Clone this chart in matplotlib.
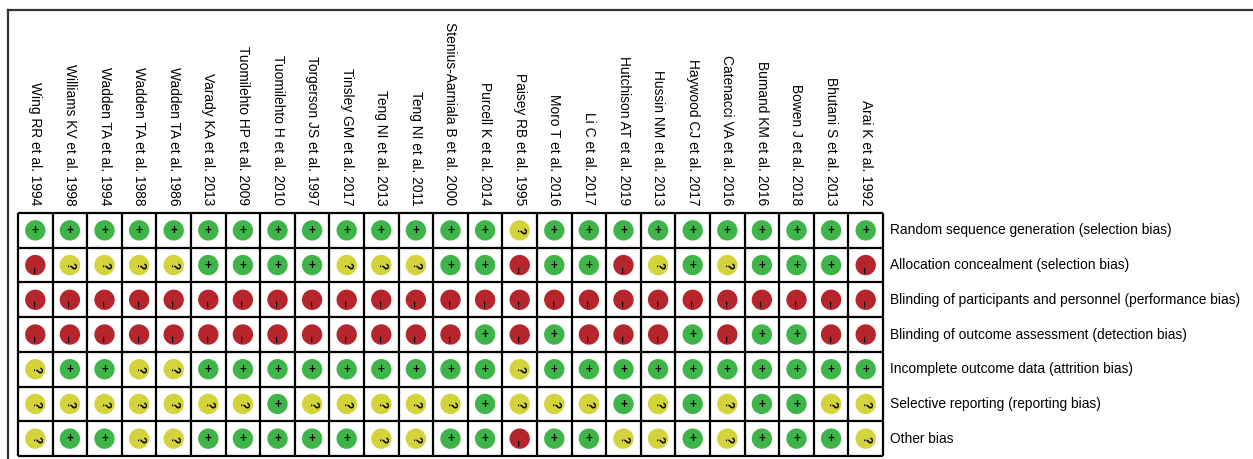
import numpy as np
import matplotlib
matplotlib.use("Agg")
import matplotlib.pyplot as plt

plt.rcParams['font.family'] = ['Liberation Sans', 'DejaVu Sans']

studies = [
    "Wing RR et al. 1994", "Williams KV et al. 1998", "Wadden TA et al. 1994",
    "Wadden TA et al. 1988", "Wadden TA et al. 1986", "Varady KA et al. 2013",
    "Tuomilehto HP et al. 2009", "Tuomilehto H et al. 2010", "Torgerson JS et al. 1997",
    "Tinsley GM et al. 2017", "Teng NI et al. 2013", "Teng NI et al. 2011",
    "Stenius-Aarniala B et al. 2000", "Purcell K et al. 2014", "Paisey RB et al. 1995",
    "Moro T et al. 2016", "Li C et al. 2017", "Hutchison AT et al. 2019",
    "Hussin NM et al. 2013", "Haywood CJ et al. 2017", "Catenacci VA et al. 2016",
    "Bumand KM et al. 2016", "Bowen J et al. 2018", "Bhutani S et al. 2013",
    "Arai K et al. 1992",
]

domains = [
    "Random sequence generation (selection bias)",
    "Allocation concealment (selection bias)",
    "Blinding of participants and personnel (performance bias)",
    "Blinding of outcome assessment (detection bias)",
    "Incomplete outcome data (attrition bias)",
    "Selective reporting (reporting bias)",
    "Other bias",
]

# one string per domain, one character per study: + low, ? unclear, - high
random_seq = "++++++++++++++?++++++++++"
allocation = "-????++++???++-++-?+?+++-"
blind_part = "-------------------------"
blind_out  = "-------------+-+---+-++--"
incomplete = "?++??+++++++++?++++++++++"
selective  = "???????+?????+???+?+?++??"
other      = "?++??+++++??++-++??+?+++?"
ratings = [random_seq, allocation, blind_part, blind_out, incomplete, selective, other]

colors = {"+": "#3fb549", "?": "#d5d33b", "-": "#b5252b"}
# the published figure was turned by 90 degrees, so the signs are too
symbol_rot = {"+": 0, "?": -90, "-": 90}
symbol_txt = {"+": "+", "?": "?", "-": "\u2013"}
symbol_dy = {"+": 0.02, "?": 0.02, "-": 0.12}

fig = plt.figure(figsize=(12.53, 4.59), dpi=100)

# outer frame
fig.add_artist(plt.Line2D([8 / 1253, 1.0], [1 - 10 / 459] * 2, color="#333333", lw=1.6))
fig.add_artist(plt.Line2D([8 / 1253] * 2, [0.0, 1 - 10 / 459], color="#333333", lw=1.6))

ax = fig.add_axes([18 / 1253, 3 / 459, 865 / 1253, 243 / 459])
n_cols, n_rows = len(studies), len(domains)
ax.set_xlim(0, n_cols)
ax.set_ylim(n_rows, 0)
ax.axis("off")

ax.hlines(np.arange(n_rows + 1), 0, n_cols, color="black", lw=1.6, clip_on=False)
ax.vlines(np.arange(n_cols + 1), 0, n_rows, color="black", lw=1.6, clip_on=False)

for r, row in enumerate(ratings):
    for c, v in enumerate(row):
        ax.scatter(c + 0.5, r + 0.5, s=215, color=colors[v], edgecolors="none", zorder=3)
        ax.text(c + 0.5, r + 0.5 + symbol_dy[v], symbol_txt[v], ha="center", va="center",
                fontsize=8.5, fontweight="bold", rotation=symbol_rot[v], zorder=4)

for c, name in enumerate(studies):
    ax.text(c + 0.5, -0.22, name, rotation=-90, ha="center", va="bottom",
            fontsize=9.9, clip_on=False)

for r, name in enumerate(domains):
    ax.text(n_cols + 0.2, r + 0.5, name, ha="left", va="center",
            fontsize=9.9, clip_on=False)

fig.savefig("out.png", dpi=100)
